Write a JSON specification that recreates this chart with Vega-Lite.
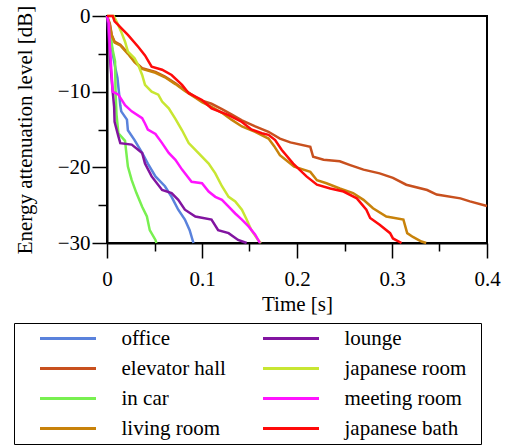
{
  "$schema": "https://vega.github.io/schema/vega-lite/v6.json",
  "width": 380,
  "height": 227,
  "autosize": {"type": "none"},
  "padding": {"left": 107, "top": 16, "right": 23, "bottom": 202},
  "background": "white",
  "config": {
    "view": {"stroke": "black", "strokeWidth": 2},
    "font": "Liberation Serif",
    "axis": {
      "domainColor": "black", "domainWidth": 2, "tickColor": "black", "tickWidth": 1.5,
      "labelColor": "black", "labelFont": "Liberation Serif", "labelFontSize": 21,
      "titleFont": "Liberation Serif", "titleFontSize": 21, "titleFontWeight": "normal", "titleColor": "black",
      "grid": false, "labelOverlap": false, "labelFlush": false
    },
    "legend": {
      "orient": "none", "legendX": -93, "legendY": 307, "columns": 2,
      "symbolType": "stroke", "symbolSize": 3136, "symbolStrokeWidth": 3, "clipHeight": 21,
      "labelFont": "Liberation Serif", "labelFontSize": 21, "labelColor": "black",
      "strokeColor": "black", "padding": 5, "symbolOffset": 19.5, "labelOffset": 24,
      "columnPadding": 16, "rowPadding": 8,
      "titleOrient": "right", "titlePadding": 10, "titleFontSize": 21, "titleFont": "Liberation Serif"
    }
  },
  "data": {"values": [
    {"room":"office","t":0,"L":0},{"room":"office","t":0.003,"L":-2},{"room":"office","t":0.006,"L":-5},{"room":"office","t":0.009,"L":-7},{"room":"office","t":0.011,"L":-8.2},{"room":"office","t":0.014,"L":-11.8},{"room":"office","t":0.015,"L":-12.6},{"room":"office","t":0.021,"L":-13.7},{"room":"office","t":0.022,"L":-15.1},{"room":"office","t":0.029,"L":-16.4},{"room":"office","t":0.037,"L":-18.1},{"room":"office","t":0.043,"L":-19.5},{"room":"office","t":0.051,"L":-21.2},{"room":"office","t":0.061,"L":-22.5},{"room":"office","t":0.068,"L":-23.9},{"room":"office","t":0.075,"L":-25.6},{"room":"office","t":0.082,"L":-26.9},{"room":"office","t":0.087,"L":-28.3},{"room":"office","t":0.091,"L":-30},

    {"room":"elevator hall","t":0,"L":0},{"room":"elevator hall","t":0.003,"L":-1},{"room":"elevator hall","t":0.005,"L":-2.5},{"room":"elevator hall","t":0.008,"L":-3.4},{"room":"elevator hall","t":0.014,"L":-3.8},{"room":"elevator hall","t":0.022,"L":-4.9},{"room":"elevator hall","t":0.029,"L":-6.0},{"room":"elevator hall","t":0.037,"L":-6.9},{"room":"elevator hall","t":0.051,"L":-7.4},{"room":"elevator hall","t":0.061,"L":-8.0},{"room":"elevator hall","t":0.072,"L":-8.9},{"room":"elevator hall","t":0.082,"L":-9.8},{"room":"elevator hall","t":0.093,"L":-10.7},{"room":"elevator hall","t":0.100,"L":-11.2},{"room":"elevator hall","t":0.110,"L":-11.6},{"room":"elevator hall","t":0.121,"L":-12.3},{"room":"elevator hall","t":0.131,"L":-13.0},{"room":"elevator hall","t":0.142,"L":-13.8},{"room":"elevator hall","t":0.156,"L":-14.6},{"room":"elevator hall","t":0.170,"L":-15.3},{"room":"elevator hall","t":0.182,"L":-16.2},{"room":"elevator hall","t":0.193,"L":-16.7},{"room":"elevator hall","t":0.214,"L":-17.3},{"room":"elevator hall","t":0.217,"L":-18.6},{"room":"elevator hall","t":0.228,"L":-19.0},{"room":"elevator hall","t":0.245,"L":-19.2},{"room":"elevator hall","t":0.256,"L":-19.7},{"room":"elevator hall","t":0.270,"L":-20.3},{"room":"elevator hall","t":0.287,"L":-20.8},{"room":"elevator hall","t":0.301,"L":-21.4},{"room":"elevator hall","t":0.315,"L":-22.3},{"room":"elevator hall","t":0.337,"L":-23.0},{"room":"elevator hall","t":0.347,"L":-23.6},{"room":"elevator hall","t":0.372,"L":-24.1},{"room":"elevator hall","t":0.382,"L":-24.5},{"room":"elevator hall","t":0.4,"L":-25.1},

    {"room":"in car","t":0,"L":0},{"room":"in car","t":0.003,"L":-2},{"room":"in car","t":0.006,"L":-4.5},{"room":"in car","t":0.0085,"L":-6},{"room":"in car","t":0.009,"L":-10},{"room":"in car","t":0.010,"L":-13},{"room":"in car","t":0.012,"L":-15.5},{"room":"in car","t":0.019,"L":-16.5},{"room":"in car","t":0.020,"L":-17.7},{"room":"in car","t":0.022,"L":-19.9},{"room":"in car","t":0.026,"L":-21.7},{"room":"in car","t":0.031,"L":-23.4},{"room":"in car","t":0.037,"L":-25.2},{"room":"in car","t":0.042,"L":-26.5},{"room":"in car","t":0.045,"L":-28.3},{"room":"in car","t":0.051,"L":-29.6},{"room":"in car","t":0.052,"L":-30},

    {"room":"living room","t":0,"L":0},{"room":"living room","t":0.003,"L":-1.2},{"room":"living room","t":0.005,"L":-2.6},{"room":"living room","t":0.008,"L":-3.5},{"room":"living room","t":0.014,"L":-3.9},{"room":"living room","t":0.022,"L":-5.0},{"room":"living room","t":0.029,"L":-6.1},{"room":"living room","t":0.037,"L":-7.0},{"room":"living room","t":0.051,"L":-7.5},{"room":"living room","t":0.061,"L":-8.1},{"room":"living room","t":0.072,"L":-9.0},{"room":"living room","t":0.082,"L":-9.9},{"room":"living room","t":0.093,"L":-10.8},{"room":"living room","t":0.100,"L":-11.4},{"room":"living room","t":0.110,"L":-12.0},{"room":"living room","t":0.121,"L":-12.8},{"room":"living room","t":0.131,"L":-13.7},{"room":"living room","t":0.142,"L":-14.6},{"room":"living room","t":0.156,"L":-15.3},{"room":"living room","t":0.170,"L":-16.2},{"room":"living room","t":0.176,"L":-17.2},{"room":"living room","t":0.182,"L":-18.4},{"room":"living room","t":0.197,"L":-19.9},{"room":"living room","t":0.214,"L":-20.6},{"room":"living room","t":0.221,"L":-21.7},{"room":"living room","t":0.231,"L":-22.1},{"room":"living room","t":0.245,"L":-22.8},{"room":"living room","t":0.259,"L":-23.4},{"room":"living room","t":0.270,"L":-24.3},{"room":"living room","t":0.280,"L":-25.4},{"room":"living room","t":0.294,"L":-26.5},{"room":"living room","t":0.312,"L":-26.9},{"room":"living room","t":0.316,"L":-28.7},{"room":"living room","t":0.322,"L":-29.2},{"room":"living room","t":0.331,"L":-29.8},{"room":"living room","t":0.336,"L":-30},

    {"room":"lounge","t":0,"L":0},{"room":"lounge","t":0.002,"L":-3},{"room":"lounge","t":0.004,"L":-7},{"room":"lounge","t":0.006,"L":-10},{"room":"lounge","t":0.0075,"L":-12},{"room":"lounge","t":0.008,"L":-14},{"room":"lounge","t":0.012,"L":-15.9},{"room":"lounge","t":0.014,"L":-16.8},{"room":"lounge","t":0.026,"L":-17.0},{"room":"lounge","t":0.037,"L":-18.1},{"room":"lounge","t":0.040,"L":-19.5},{"room":"lounge","t":0.047,"L":-21.2},{"room":"lounge","t":0.058,"L":-23.0},{"room":"lounge","t":0.068,"L":-23.4},{"room":"lounge","t":0.075,"L":-24.3},{"room":"lounge","t":0.082,"L":-25.6},{"room":"lounge","t":0.093,"L":-26.5},{"room":"lounge","t":0.110,"L":-26.9},{"room":"lounge","t":0.117,"L":-28.3},{"room":"lounge","t":0.128,"L":-28.7},{"room":"lounge","t":0.138,"L":-29.6},{"room":"lounge","t":0.147,"L":-30},

    {"room":"japanese room","t":0,"L":0},{"room":"japanese room","t":0.007,"L":0},{"room":"japanese room","t":0.010,"L":-0.7},{"room":"japanese room","t":0.015,"L":-2.1},{"room":"japanese room","t":0.019,"L":-3.4},{"room":"japanese room","t":0.022,"L":-4.7},{"room":"japanese room","t":0.029,"L":-5.6},{"room":"japanese room","t":0.033,"L":-6.5},{"room":"japanese room","t":0.037,"L":-7.8},{"room":"japanese room","t":0.040,"L":-9.1},{"room":"japanese room","t":0.047,"L":-10.0},{"room":"japanese room","t":0.054,"L":-10.4},{"room":"japanese room","t":0.058,"L":-11.3},{"room":"japanese room","t":0.065,"L":-12.2},{"room":"japanese room","t":0.072,"L":-13.6},{"room":"japanese room","t":0.079,"L":-15.1},{"room":"japanese room","t":0.086,"L":-16.8},{"room":"japanese room","t":0.093,"L":-17.7},{"room":"japanese room","t":0.107,"L":-19.5},{"room":"japanese room","t":0.114,"L":-20.8},{"room":"japanese room","t":0.121,"L":-22.5},{"room":"japanese room","t":0.128,"L":-23.9},{"room":"japanese room","t":0.135,"L":-24.5},{"room":"japanese room","t":0.142,"L":-25.6},{"room":"japanese room","t":0.147,"L":-26.9},{"room":"japanese room","t":0.152,"L":-28.3},{"room":"japanese room","t":0.159,"L":-29.6},{"room":"japanese room","t":0.162,"L":-30},

    {"room":"meeting room","t":0,"L":0},{"room":"meeting room","t":0.002,"L":-1},{"room":"meeting room","t":0.003,"L":-4},{"room":"meeting room","t":0.005,"L":-8},{"room":"meeting room","t":0.006,"L":-10},{"room":"meeting room","t":0.012,"L":-10.4},{"room":"meeting room","t":0.019,"L":-11.8},{"room":"meeting room","t":0.026,"L":-12.6},{"room":"meeting room","t":0.037,"L":-13.5},{"room":"meeting room","t":0.040,"L":-14.2},{"room":"meeting room","t":0.043,"L":-15.0},{"room":"meeting room","t":0.051,"L":-15.6},{"room":"meeting room","t":0.058,"L":-16.8},{"room":"meeting room","t":0.065,"L":-18.1},{"room":"meeting room","t":0.072,"L":-19.0},{"room":"meeting room","t":0.079,"L":-20.3},{"room":"meeting room","t":0.089,"L":-21.9},{"room":"meeting room","t":0.100,"L":-22.1},{"room":"meeting room","t":0.107,"L":-23.2},{"room":"meeting room","t":0.114,"L":-23.9},{"room":"meeting room","t":0.121,"L":-24.3},{"room":"meeting room","t":0.128,"L":-25.2},{"room":"meeting room","t":0.135,"L":-26.1},{"room":"meeting room","t":0.142,"L":-26.9},{"room":"meeting room","t":0.149,"L":-27.8},{"room":"meeting room","t":0.156,"L":-28.9},{"room":"meeting room","t":0.161,"L":-30},

    {"room":"japanese bath","t":0,"L":0},{"room":"japanese bath","t":0.006,"L":0},{"room":"japanese bath","t":0.008,"L":-0.7},{"room":"japanese bath","t":0.012,"L":-1.2},{"room":"japanese bath","t":0.015,"L":-1.6},{"room":"japanese bath","t":0.022,"L":-2.5},{"room":"japanese bath","t":0.033,"L":-4.1},{"room":"japanese bath","t":0.040,"L":-5.2},{"room":"japanese bath","t":0.047,"L":-6.7},{"room":"japanese bath","t":0.058,"L":-7.1},{"room":"japanese bath","t":0.068,"L":-7.8},{"room":"japanese bath","t":0.079,"L":-9.1},{"room":"japanese bath","t":0.086,"L":-10.2},{"room":"japanese bath","t":0.100,"L":-11.1},{"room":"japanese bath","t":0.110,"L":-12.2},{"room":"japanese bath","t":0.128,"L":-13.1},{"room":"japanese bath","t":0.142,"L":-14.0},{"room":"japanese bath","t":0.152,"L":-15.0},{"room":"japanese bath","t":0.163,"L":-15.5},{"room":"japanese bath","t":0.170,"L":-15.7},{"room":"japanese bath","t":0.177,"L":-16.4},{"room":"japanese bath","t":0.184,"L":-17.7},{"room":"japanese bath","t":0.196,"L":-19.5},{"room":"japanese bath","t":0.210,"L":-21.2},{"room":"japanese bath","t":0.221,"L":-22.3},{"room":"japanese bath","t":0.235,"L":-22.8},{"room":"japanese bath","t":0.249,"L":-23.2},{"room":"japanese bath","t":0.263,"L":-24.1},{"room":"japanese bath","t":0.273,"L":-25.6},{"room":"japanese bath","t":0.277,"L":-26.7},{"room":"japanese bath","t":0.287,"L":-27.6},{"room":"japanese bath","t":0.298,"L":-28.7},{"room":"japanese bath","t":0.301,"L":-29.4},{"room":"japanese bath","t":0.310,"L":-30}
  ]},
  "mark": {"type": "line", "strokeWidth": 2.5},
  "encoding": {
    "x": {
      "field": "t", "type": "quantitative",
      "scale": {"domain": [0, 0.4], "nice": false, "zero": false},
      "axis": {
        "title": "Time [s]",
        "values": [0, 0.05, 0.1, 0.15, 0.2, 0.25, 0.3, 0.35, 0.4],
        "tickSize": {"condition": {"test": "abs(datum.value*10 - round(datum.value*10)) < 0.001", "value": 15}, "value": 8},
        "labelExpr": "abs(datum.value*10 - round(datum.value*10)) < 0.001 ? format(datum.value, '.1~f') : ''",
        "labelPadding": 10,
        "titlePadding": 4
      }
    },
    "y": {
      "field": "L", "type": "quantitative",
      "scale": {"domain": [-30, 0], "nice": false, "zero": false},
      "axis": {
        "title": "Energy attenuation level [dB]",
        "values": [-30, -25, -20, -15, -10, -5, 0],
        "tickSize": {"condition": {"test": "datum.value % 10 == 0", "value": 15}, "value": 9},
        "labelExpr": "datum.value % 10 == 0 ? datum.label : ''",
        "labelPadding": 2,
        "titlePadding": 22
      }
    },
    "color": {
      "field": "room", "type": "nominal",
      "scale": {
        "domain": ["office", "elevator hall", "in car", "living room", "lounge", "japanese room", "meeting room", "japanese bath"],
        "range": ["#5a82dc", "#c8501e", "#78f050", "#c8820a", "#8214a0", "#c8e632", "#ff14ff", "#ff0a0a"]
      },
      "legend": {"title": " "}
    }
  }
}
